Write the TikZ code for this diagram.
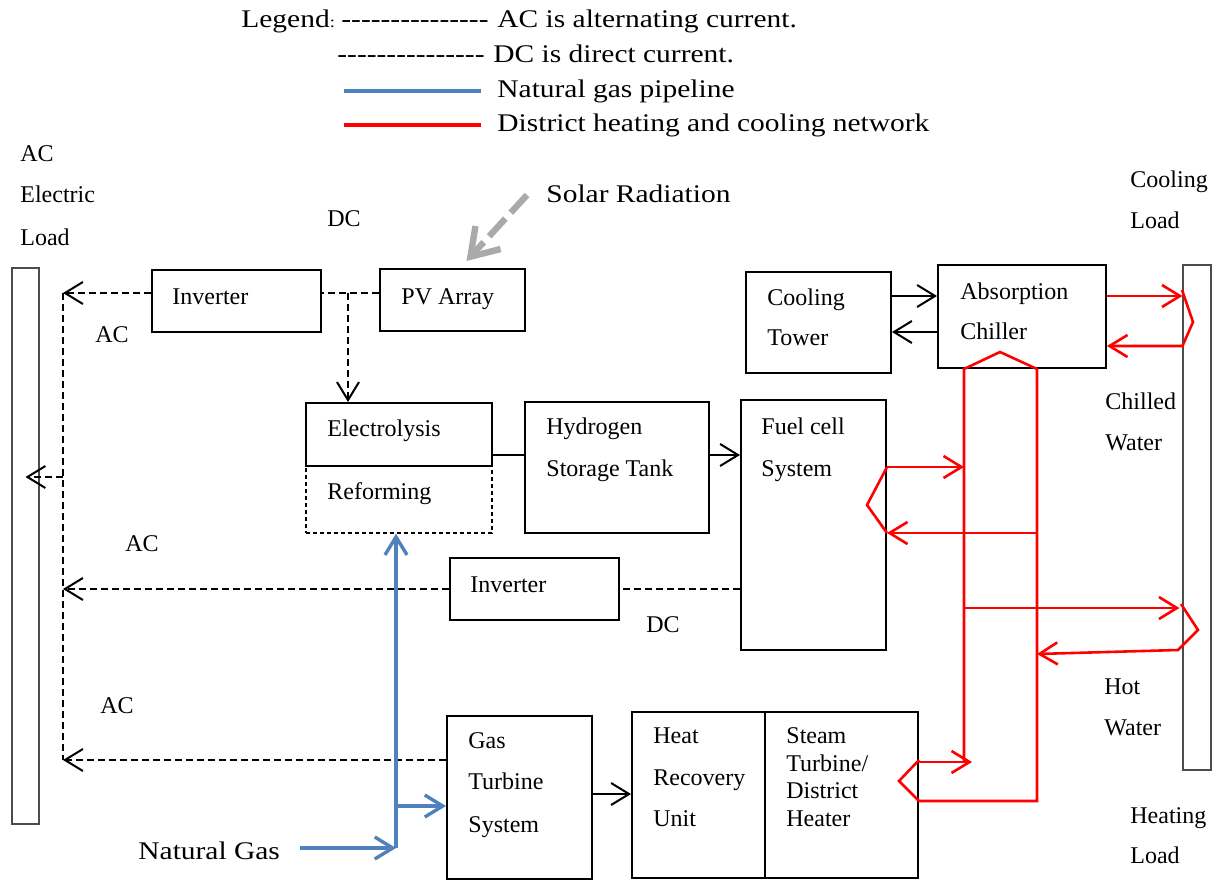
\documentclass[tikz,border=0pt]{standalone}
\usepackage{fontspec}
\setmainfont{Liberation Serif}
\newfontfamily\widefont[FakeStretch=1.16]{Liberation Serif}
\usetikzlibrary{arrows.meta,fit,calc}
\definecolor{gasblue}{RGB}{79,129,189}
\definecolor{heatred}{RGB}{255,0,0}
\definecolor{sungray}{RGB}{170,170,170}
% a run of five separate hyphens (no dash ligatures)
\newcommand\legfive{\mbox{-}\mbox{-}\mbox{-}\mbox{-}\mbox{-}}
\newcommand\legdashes{\legfive\legfive\legfive}
\begin{document}
\begin{tikzpicture}[
  x=0.5pt, y=-0.5pt,
  box/.style={draw, line width=1pt, inner sep=0pt},
  loadbar/.style={draw=black!70, line width=0.55pt, inner sep=0pt},
  lbl/.style={font=\fontsize{12}{14}\selectfont, inner sep=0pt, anchor=base west},
  big/.style={font=\widefont\fontsize{12.7}{15}\selectfont, inner sep=0pt, anchor=base west},
  >={Straight Barb[length=9pt,width=11pt]},
  wire/.style={line width=1pt},
  elec/.style={line width=1pt, dash pattern=on 3.5pt off 2pt},
  gas/.style={line width=1.7pt, draw=gasblue},
  heat/.style={line width=1.3pt, draw=heatred},
  sun/.style={draw=sungray, line width=3.2pt, dash pattern=on 12pt off 4pt,
    -{Straight Barb[length=13pt,width=17pt]}},
]
% canvas
\path[fill=white] (0,0) rectangle (1214,882);
\useasboundingbox (0,0) rectangle (1214,882);

% ---------- legend ----------
\node[big] (leg1) at (241,28) {Legend{\fontsize{8}{8}\selectfont :}};
\node[big] (leg1d) at (341,28) {\legdashes};
\node[big] (leg1t) at (497,28) {AC is alternating current.};
\node[big] (leg2d) at (337,63) {\legdashes};
\node[big] (leg2t) at (493,63) {DC is direct current.};
\node[big] (leg3t) at (497,98) {Natural gas pipeline};
\node[big] (leg4t) at (497,132) {District heating and cooling network};
\coordinate (legGasA) at (344,91);
\coordinate (legGasB) at (481,91);
\coordinate (legHeatA) at (344,125);
\coordinate (legHeatB) at (481,125);
\draw[gas] (legGasA) -- (legGasB);
\draw[heat, line width=1.6pt] (legHeatA) -- (legHeatB);

% ---------- load bars ----------
\node[loadbar, fit={(12,268) (39,824)}] (eload) {};
\node[loadbar, fit={(1183,265) (1211,770)}] (hcload) {};

% ---------- components ----------
\node[box, fit={(152,270) (321,332)}] (inv1) {};
\node[box, fit={(380,269) (525,331)}] (pv) {};
\node[box, fit={(746,272) (891,373)}] (ct) {};
\node[box, fit={(938,265) (1106,368)}] (chiller) {};
\node[draw, line width=0.65pt, dash pattern=on 2pt off 1.5pt, inner sep=0pt,
      fit={(306,466) (492,533)}] (reform) {};
\node[box, fit={(306,403) (492,466)}] (elec) {};
\node[box, fit={(525,402) (709,533)}] (h2) {};
\node[box, fit={(741,400) (886,650)}] (fc) {};
\node[box, fit={(450,558) (619,620)}] (inv2) {};
\node[box, fit={(447,716) (592,879)}] (gt) {};
\node[box, fit={(632,712) (765,878)}] (hru) {};
\node[box, fit={(765,712) (918,878)}] (st) {};

% ---------- component texts ----------
\node[lbl] (inv1T) at (172,304) {Inverter};
\node[lbl] (pvT) at (401,304) {PV Array};
\node[lbl] (ctT1) at (767,305) {Cooling};
\node[lbl] (ctT2) at (767,345) {Tower};
\node[lbl] (chT1) at (960,299) {Absorption};
\node[lbl] (chT2) at (960,339) {Chiller};
\node[lbl] (elecT) at (327,436) {Electrolysis};
\node[lbl] (refT) at (327,499) {Reforming};
\node[lbl] (h2T1) at (546,434) {Hydrogen};
\node[lbl] (h2T2) at (546,476) {Storage Tank};
\node[lbl] (fcT1) at (761,434) {Fuel cell};
\node[lbl] (fcT2) at (761,476) {System};
\node[lbl] (inv2T) at (470,592) {Inverter};
\node[lbl] (gtT1) at (468,748) {Gas};
\node[lbl] (gtT2) at (468,789) {Turbine};
\node[lbl] (gtT3) at (468,832) {System};
\node[lbl] (hruT1) at (653,743) {Heat};
\node[lbl] (hruT2) at (653,785) {Recovery};
\node[lbl] (hruT3) at (653,826) {Unit};
\node[lbl] (stT1) at (786,743) {Steam};
\node[lbl] (stT2) at (786,771) {Turbine/};
\node[lbl] (stT3) at (786,798) {District};
\node[lbl] (stT4) at (786,826) {Heater};

% ---------- free labels ----------
\node[lbl] (eloadT1) at (20,162) {AC};
\node[lbl] (eloadT2) at (20,203) {Electric};
\node[lbl] (eloadT3) at (20,245) {Load};
\node[lbl] (dcPV) at (327,227) {DC};
\node[lbl] (acInv1) at (95,342) {AC};
\node[lbl] (acInv2) at (125,551) {AC};
\node[lbl] (acGT) at (100,713) {AC};
\node[lbl] (dcFC) at (646,632) {DC};
\node[lbl] (coolT1) at (1130,188) {Cooling};
\node[lbl] (coolT2) at (1130,228) {Load};
\node[lbl] (chwT1) at (1105,409) {Chilled};
\node[lbl] (chwT2) at (1105,450) {Water};
\node[lbl] (hwT1) at (1104,694) {Hot};
\node[lbl] (hwT2) at (1104,735) {Water};
\node[lbl] (heatT1) at (1130,823) {Heating};
\node[lbl] (heatT2) at (1130,863) {Load};
\node[big] (solar) at (546,203) {Solar Radiation};
\node[big] (ng) at (138,859) {Natural Gas};

% ---------- electric bus (AC / DC) ----------
\coordinate (busTop) at (63,293);
\coordinate (busMid) at (63,477);
\coordinate (busBot) at (63,760);
\coordinate (pvTap) at (348,293);
\draw[elec,->] (inv1.west |- busTop) -- (busTop);
\draw[elec] (busTop) -- (busBot);
\draw[elec,->] (busMid) -- (eload.center |- busMid);
\draw[elec] (pv.west |- busTop) -- (inv1.east |- busTop);
\draw[elec,->] (pvTap) -- (pvTap |- elec.north);
\draw[elec,->] (inv2.west) -- (inv2.west -| busTop);
\draw[elec] (fc.west |- inv2.east) -- (inv2.east);
\draw[elec,->] (gt.west |- busBot) -- (busBot);

% ---------- solar input ----------
\coordinate (sunSrc) at (527,195);
\draw[sun] (sunSrc) -- ($(pv.north)+(14,-7)$);

% ---------- hydrogen and cooling water ----------
\coordinate (h2Link) at (0,455);
\draw[wire] (elec.east |- h2Link) -- (h2.west |- h2Link);
\draw[wire,->] (h2.east |- h2Link) -- (fc.west |- h2Link);
\coordinate (ctOut) at (0,296);
\coordinate (ctIn) at (0,332);
\draw[wire,->] (ct.east |- ctOut) -- (chiller.west |- ctOut);
\draw[wire,->] (chiller.west |- ctIn) -- (ct.east |- ctIn);
\coordinate (gtOut) at (0,794);
\draw[wire,->] (gt.east |- gtOut) -- (hru.west |- gtOut);

% ---------- natural gas ----------
\coordinate (ngSrc) at (300,848);
\coordinate (ngJct) at (396,848);
\coordinate (gtIn) at (396,806);
\draw[gas,->] (ngSrc) -- (ngJct);
\draw[gas,->] (ngJct) -- (ngJct |- reform.south);
\draw[gas,->] (gtIn) -- (gt.west |- gtIn);

% ---------- district heating and cooling ----------
\coordinate (cwRet) at (0,346);
\draw[heat,->] (chiller.east |- ctOut) -- (hcload.west |- ctOut);
\coordinate (cwA) at (1182,290);
\coordinate (cwB) at (1193,322);
\draw[heat,->] (cwA) -- (cwB) -- (hcload.west |- cwRet) -- (chiller.east |- cwRet);

\coordinate (supX) at (964,0);
\coordinate (retX) at (1037,0);
\coordinate (loopApex) at (1000,352);
\coordinate (stOut) at (0,762);
\coordinate (stRet) at (0,801);
\coordinate (stTip) at (899,781);
\draw[heat] (supX |- stOut) -- (supX |- chiller.south) -- (loopApex)
  -- (retX |- chiller.south) -- (retX |- stRet) -- (st.east |- stRet)
  -- (stTip) -- ($(st.east |- stOut)+(0,-2)$);
\draw[heat,->] (st.east |- stOut) -- ($(supX |- stOut)+(8,0)$);

\coordinate (fcOut) at (0,467);
\coordinate (fcRet) at (0,533);
\coordinate (fcTip) at (867,505);
\draw[heat,->] (fc.east |- fcOut) -- (supX |- fcOut);
\draw[heat,->] (retX |- fcRet) -- (fc.east |- fcRet);
\draw[heat] (fc.east |- fcOut) -- (fcTip) -- (fc.east |- fcRet);

\coordinate (hwOut) at (0,608);
\coordinate (hwA) at (1181,604);
\coordinate (hwB) at (1198,630);
\coordinate (hwC) at (1178,650);
\coordinate (hwRet) at (0,654);
\draw[heat,->] (supX |- hwOut) -- ($(hcload.west |- hwOut)+(-3,0)$);
\draw[heat,->] (hwA) -- (hwB) -- (hwC) -- (retX |- hwRet);
\end{tikzpicture}
\end{document}
